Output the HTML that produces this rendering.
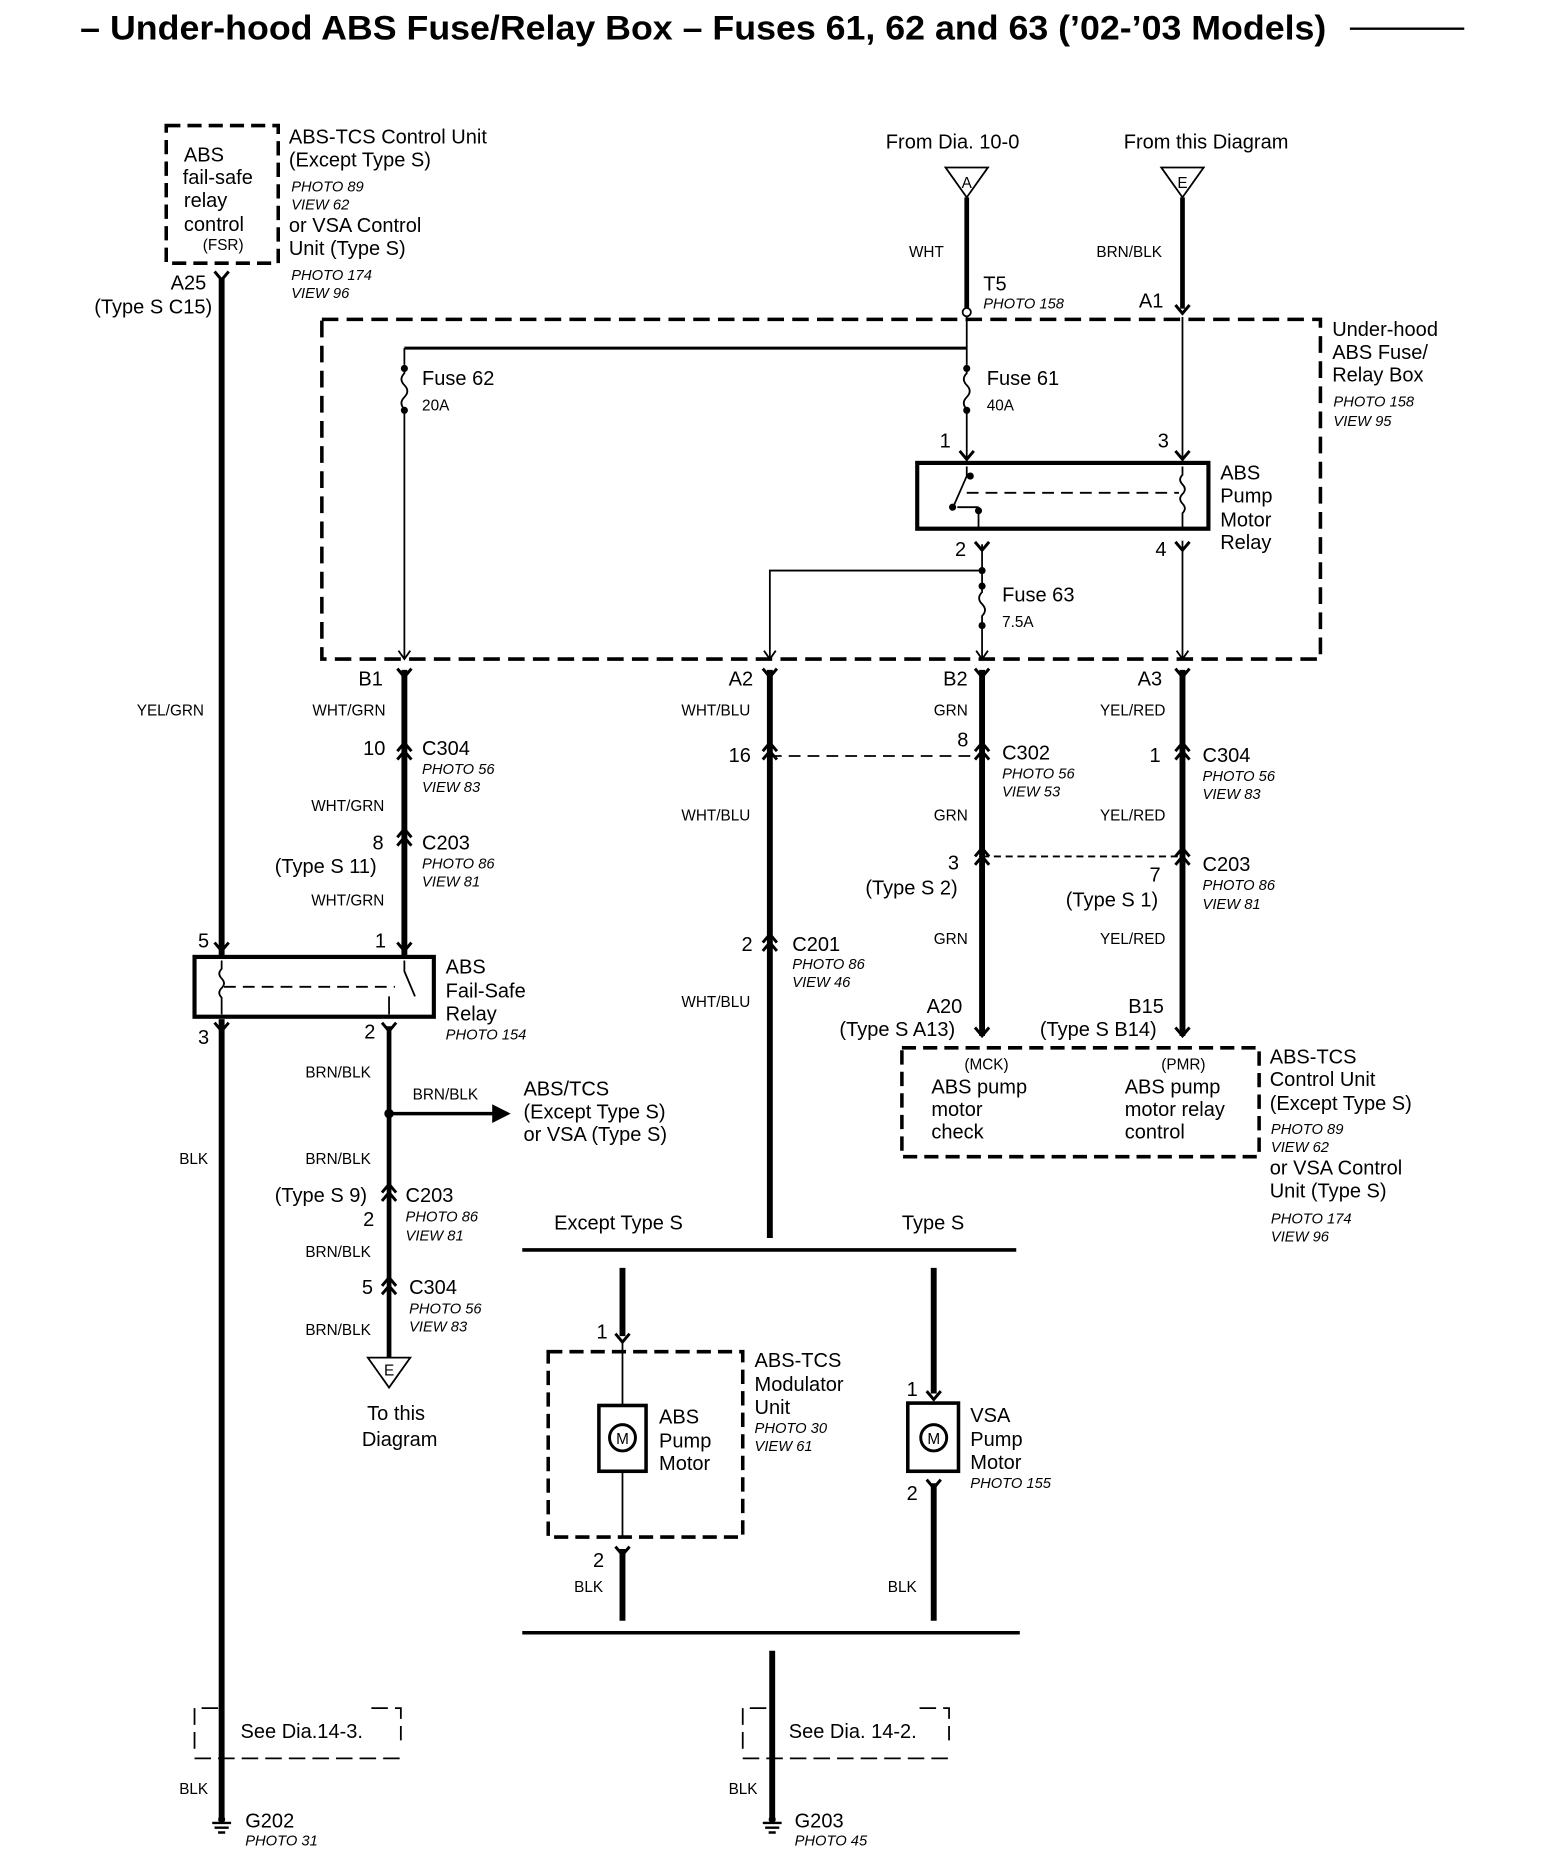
<!DOCTYPE html>
<html><head><meta charset="utf-8"><style>
html,body{margin:0;padding:0;background:#fff;}
svg{display:block;}
text{font-family:"Liberation Sans",Arial,sans-serif;fill:#000;}
.t{font-size:17px;}
.s{font-size:13px;}
.i{font-size:12.5px;font-style:italic;}
.b{font-size:29px;font-weight:bold;}
</style></head><body>
<svg width="1568" height="1866" viewBox="0 0 1330 1560" preserveAspectRatio="none" xmlns="http://www.w3.org/2000/svg">
<defs>
<path id="yc" d="M-6,-7 L0,0 L6,-7" fill="none" stroke="#000" stroke-width="2.5"/>
<path id="ar" d="M-5,-7 L0,0 L5,-7" fill="none" stroke="#000" stroke-width="1.5"/>
<path id="cm" d="M-6,0 L0,-7 L6,0 M-6,7 L0,0 L6,7" fill="none" stroke="#000" stroke-width="2.5"/>
</defs>
<g stroke="#000" fill="none">
<line x1="1145" y1="24" x2="1242" y2="24" stroke-width="2"/>
<rect x="141" y="105" width="95" height="115" stroke-width="3" stroke-dasharray="12,6"/>
<line x1="188" y1="232" x2="188" y2="800" stroke-width="5"/>
<line x1="188" y1="852" x2="188" y2="1522" stroke-width="5"/>
<rect x="273" y="267" width="847" height="284" stroke-width="3" stroke-dasharray="14,7"/>
<path d="M802,140 L838,140 L820,165 Z" stroke-width="1.5"/>
<path d="M985,140 L1021,140 L1003,165 Z" stroke-width="1.5"/>
<line x1="820" y1="165" x2="820" y2="258" stroke-width="4"/>
<line x1="1003" y1="165" x2="1003" y2="258" stroke-width="4"/>
<circle cx="820" cy="261" r="3.5" fill="#fff" stroke-width="1.5"/>
<line x1="820" y1="265" x2="820" y2="305" stroke-width="1.5"/>
<line x1="343" y1="291" x2="820" y2="291" stroke-width="2.5"/>
<line x1="343" y1="291" x2="343" y2="305" stroke-width="1.5"/>
<path d="M343,305 L343,312 q-5,5 0,10 q5,5 0,10 q-5,5 0,10 L343,550" stroke-width="1.5"/>
<path d="M820,305 L820,312 q-5,5 0,10 q5,5 0,10 q-5,5 0,10 L820,386" stroke-width="1.5"/>
<line x1="1003" y1="265" x2="1003" y2="386" stroke-width="1.5"/>
<rect x="778" y="387" width="247" height="55" stroke-width="3.5"/>
<path d="M820,390 L820,398 L808,425 M812,424 L830,424 M830,424 L830,442" stroke-width="1.5"/>
<line x1="820" y1="412" x2="1000" y2="412" stroke-width="1.5" stroke-dasharray="10,6"/>
<path d="M1003,390 L1003,397 q-4,4 0,8 q4,4 0,8 q-4,4 0,8 q4,4 0,8 L1003,442" stroke-width="1.5"/>
<line x1="833" y1="455" x2="833" y2="488" stroke-width="1.5"/>
<path d="M833,488 L833,495 q-5,5 0,10 q5,5 0,10 L833,550" stroke-width="1.5"/>
<line x1="1003" y1="452" x2="1003" y2="550" stroke-width="1.5"/>
<path d="M833,477 L653,477 L653,550" stroke-width="1.5"/>
<line x1="343" y1="560" x2="343" y2="800" stroke-width="5"/>
<line x1="653" y1="560" x2="653" y2="1035" stroke-width="5"/>
<line x1="833" y1="560" x2="833" y2="866" stroke-width="5"/>
<line x1="1003" y1="560" x2="1003" y2="866" stroke-width="5"/>
<line x1="653" y1="632" x2="833" y2="632" stroke-width="1.5" stroke-dasharray="10,6"/>
<line x1="833" y1="716" x2="1003" y2="716" stroke-width="1.5" stroke-dasharray="6,4"/>
<rect x="165" y="800" width="203" height="50" stroke-width="3.5"/>
<path d="M188,803 L188,810 q-4,4 0,8 q4,4 0,8 q-4,4 0,8 L188,848" stroke-width="1.5"/>
<line x1="190" y1="825" x2="335" y2="825" stroke-width="1.5" stroke-dasharray="10,6"/>
<path d="M343,803 L343,812 L352,833 M330,833 L330,848" stroke-width="1.5"/>
<line x1="330" y1="858" x2="330" y2="1135" stroke-width="4"/>
<line x1="330" y1="931" x2="425" y2="931" stroke-width="3"/>
<path d="M418,924 L432,931 L418,938 Z" fill="#000"/>
<path d="M312,1135 L348,1135 L330,1160 Z" stroke-width="1.5"/>
<rect x="765" y="876" width="303" height="91" stroke-width="3" stroke-dasharray="12,6"/>
<line x1="443" y1="1045" x2="862" y2="1045" stroke-width="3"/>
<line x1="528" y1="1060" x2="528" y2="1117" stroke-width="5"/>
<line x1="792" y1="1060" x2="792" y2="1165" stroke-width="5"/>
<rect x="465" y="1130" width="165" height="155" stroke-width="3" stroke-dasharray="12,6"/>
<line x1="528" y1="1122" x2="528" y2="1285" stroke-width="1.5"/>
<rect x="508" y="1175" width="40" height="55" stroke-width="3" fill="#fff"/>
<circle cx="528" cy="1202" r="11" stroke-width="2.5"/>
<line x1="528" y1="1295" x2="528" y2="1355" stroke-width="5"/>
<rect x="770" y="1173" width="43" height="57" stroke-width="3" fill="#fff"/>
<circle cx="792" cy="1202" r="11" stroke-width="2.5"/>
<line x1="792" y1="1240" x2="792" y2="1355" stroke-width="5"/>
<line x1="443" y1="1365" x2="865" y2="1365" stroke-width="3"/>
<line x1="655" y1="1380" x2="655" y2="1522" stroke-width="5"/>
<path d="M165,1462 L165,1428 L190,1428 M315,1428 L340,1428 L340,1455 M165,1470 L340,1470" stroke-width="1.5" stroke-dasharray="14,6"/>
<path d="M630,1462 L630,1428 L655,1428 M780,1428 L805,1428 L805,1455 M630,1470 L805,1470" stroke-width="1.5" stroke-dasharray="14,6"/>
<path d="M180,1524 L196,1524 M182,1528 L194,1528 M185,1532 L191,1532" stroke-width="2"/>
<path d="M647,1524 L663,1524 M649,1528 L661,1528 M652,1532 L658,1532" stroke-width="2"/>
</g>
<g fill="#000">
<circle cx="343" cy="308" r="3"/><circle cx="343" cy="343" r="3"/>
<circle cx="820" cy="308" r="3"/><circle cx="820" cy="343" r="3"/>
<circle cx="833" cy="477" r="3"/><circle cx="833" cy="490" r="3"/><circle cx="833" cy="523" r="3"/>
<circle cx="808" cy="424" r="3"/><circle cx="830" cy="427" r="3"/><circle cx="823" cy="398" r="3"/>
<circle cx="330" cy="931" r="4"/>
<circle cx="188" cy="1521" r="3"/><circle cx="655" cy="1521" r="3"/>
</g>
<use href="#yc" x="188" y="234"/>
<use href="#yc" x="343" y="566"/><use href="#yc" x="653" y="566"/><use href="#yc" x="833" y="566"/><use href="#yc" x="1003" y="566"/>
<use href="#ar" x="343" y="551"/><use href="#ar" x="653" y="551"/><use href="#ar" x="833" y="551"/><use href="#ar" x="1003" y="551"/>
<use href="#cm" x="343" y="628"/><use href="#cm" x="343" y="700"/>
<use href="#cm" x="653" y="628"/><use href="#cm" x="653" y="788"/>
<use href="#cm" x="833" y="628"/><use href="#cm" x="833" y="716"/>
<use href="#cm" x="1003" y="628"/><use href="#cm" x="1003" y="716"/>
<use href="#cm" x="330" y="997"/><use href="#cm" x="330" y="1075"/>
<use href="#yc" x="833" y="866"/>
<use href="#yc" x="1003" y="866"/>
<use href="#yc" x="188" y="795"/><use href="#yc" x="343" y="795"/>
<use href="#yc" x="188" y="862"/><use href="#yc" x="330" y="862"/>
<use href="#yc" x="820" y="384"/><use href="#yc" x="1003" y="384"/>
<use href="#yc" x="833" y="460"/><use href="#yc" x="1003" y="460"/>
<use href="#yc" x="1003" y="262"/>
<use href="#yc" x="528" y="1122"/><use href="#yc" x="528" y="1300"/>
<use href="#yc" x="792" y="1170"/><use href="#yc" x="792" y="1244"/>
<text x="68" y="33" class="b" textLength="1057" lengthAdjust="spacingAndGlyphs">– Under-hood ABS Fuse/Relay Box – Fuses 61, 62 and 63 (’02-’03 Models)</text>
<text class="t"><tspan x="156" y="135">ABS</tspan><tspan x="155" y="154">fail-safe</tspan><tspan x="156" y="173">relay</tspan><tspan x="156" y="193">control</tspan></text>
<text x="172" y="209" class="s">(FSR)</text>
<text class="t"><tspan x="245" y="120">ABS-TCS Control Unit</tspan><tspan x="245" y="139">(Except Type S)</tspan></text>
<text class="i"><tspan x="247" y="160">PHOTO 89</tspan><tspan x="247" y="175">VIEW 62</tspan></text>
<text class="t"><tspan x="245" y="194">or VSA Control</tspan><tspan x="245" y="213">Unit (Type S)</tspan></text>
<text class="i"><tspan x="247" y="234">PHOTO 174</tspan><tspan x="247" y="249">VIEW 96</tspan></text>
<text x="175" y="242" class="t" text-anchor="end">A25</text>
<text x="180" y="262" class="t" text-anchor="end">(Type S C15)</text>
<text x="808" y="124" class="t" text-anchor="middle">From Dia. 10-0</text>
<text x="1023" y="124" class="t" text-anchor="middle">From this Diagram</text>
<text x="820" y="157" class="s" text-anchor="middle">A</text>
<text x="1003" y="157" class="s" text-anchor="middle">E</text>
<text x="771" y="215" class="s">WHT</text>
<text x="930" y="215" class="s">BRN/BLK</text>
<text x="834" y="243" class="t">T5</text>
<text x="834" y="258" class="i">PHOTO 158</text>
<text x="966" y="257" class="t">A1</text>
<text class="t"><tspan x="1130" y="281">Under-hood</tspan><tspan x="1130" y="300">ABS Fuse/</tspan><tspan x="1130" y="319">Relay Box</tspan></text>
<text class="i"><tspan x="1131" y="340">PHOTO 158</tspan><tspan x="1131" y="356">VIEW 95</tspan></text>
<text x="358" y="322" class="t">Fuse 62</text><text x="358" y="343" class="s">20A</text>
<text x="837" y="322" class="t">Fuse 61</text><text x="837" y="343" class="s">40A</text>
<text x="797" y="374" class="t">1</text><text x="982" y="374" class="t">3</text>
<text x="810" y="465" class="t">2</text><text x="980" y="465" class="t">4</text>
<text class="t"><tspan x="1035" y="401">ABS</tspan><tspan x="1035" y="420">Pump</tspan><tspan x="1035" y="440">Motor</tspan><tspan x="1035" y="459">Relay</tspan></text>
<text x="850" y="503" class="t">Fuse 63</text><text x="850" y="524" class="s">7.5A</text>
<text x="304" y="573" class="t">B1</text><text x="618" y="573" class="t">A2</text><text x="800" y="573" class="t">B2</text><text x="965" y="573" class="t">A3</text>
<text x="116" y="598" class="s">YEL/GRN</text>
<text x="265" y="598" class="s">WHT/GRN</text>
<text x="578" y="598" class="s">WHT/BLU</text>
<text x="792" y="598" class="s">GRN</text>
<text x="933" y="598" class="s">YEL/RED</text>
<text x="308" y="631" class="t">10</text><text x="358" y="631" class="t">C304</text>
<text class="i"><tspan x="358" y="647">PHOTO 56</tspan><tspan x="358" y="662">VIEW 83</tspan></text>
<text x="618" y="637" class="t">16</text>
<text x="812" y="624" class="t">8</text><text x="850" y="635" class="t">C302</text>
<text class="i"><tspan x="850" y="651">PHOTO 56</tspan><tspan x="850" y="666">VIEW 53</tspan></text>
<text x="975" y="637" class="t">1</text><text x="1020" y="637" class="t">C304</text>
<text class="i"><tspan x="1020" y="653">PHOTO 56</tspan><tspan x="1020" y="668">VIEW 83</tspan></text>
<text x="264" y="678" class="s">WHT/GRN</text>
<text x="578" y="686" class="s">WHT/BLU</text>
<text x="792" y="686" class="s">GRN</text>
<text x="933" y="686" class="s">YEL/RED</text>
<text x="316" y="710" class="t">8</text><text x="358" y="710" class="t">C203</text>
<text x="233" y="730" class="t">(Type S 11)</text>
<text class="i"><tspan x="358" y="726">PHOTO 86</tspan><tspan x="358" y="741">VIEW 81</tspan></text>
<text x="264" y="757" class="s">WHT/GRN</text>
<text x="804" y="727" class="t">3</text><text x="734" y="748" class="t">(Type S 2)</text>
<text x="975" y="737" class="t">7</text><text x="904" y="758" class="t">(Type S 1)</text>
<text x="1020" y="728" class="t">C203</text>
<text class="i"><tspan x="1020" y="744">PHOTO 86</tspan><tspan x="1020" y="760">VIEW 81</tspan></text>
<text x="792" y="789" class="s">GRN</text><text x="933" y="789" class="s">YEL/RED</text>
<text x="629" y="795" class="t">2</text><text x="672" y="795" class="t">C201</text>
<text class="i"><tspan x="672" y="810">PHOTO 86</tspan><tspan x="672" y="825">VIEW 46</tspan></text>
<text x="578" y="842" class="s">WHT/BLU</text>
<text x="168" y="792" class="t">5</text><text x="318" y="792" class="t">1</text>
<text class="t"><tspan x="378" y="814">ABS</tspan><tspan x="378" y="834">Fail-Safe</tspan><tspan x="378" y="853">Relay</tspan></text>
<text x="378" y="869" class="i">PHOTO 154</text>
<text x="168" y="873" class="t">3</text><text x="309" y="868" class="t">2</text>
<text x="786" y="847" class="t">A20</text><text x="712" y="866" class="t">(Type S A13)</text>
<text x="957" y="847" class="t">B15</text><text x="882" y="866" class="t">(Type S B14)</text>
<text x="818" y="894" class="s">(MCK)</text><text x="985" y="894" class="s">(PMR)</text>
<text class="t"><tspan x="790" y="914">ABS pump</tspan><tspan x="790" y="933">motor</tspan><tspan x="790" y="952">check</tspan></text>
<text class="t"><tspan x="954" y="914">ABS pump</tspan><tspan x="954" y="933">motor relay</tspan><tspan x="954" y="952">control</tspan></text>
<text class="t"><tspan x="1077" y="889">ABS-TCS</tspan><tspan x="1077" y="908">Control Unit</tspan><tspan x="1077" y="928">(Except Type S)</tspan></text>
<text class="i"><tspan x="1078" y="948">PHOTO 89</tspan><tspan x="1078" y="963">VIEW 62</tspan></text>
<text class="t"><tspan x="1077" y="982">or VSA Control</tspan><tspan x="1077" y="1001">Unit (Type S)</tspan></text>
<text class="i"><tspan x="1078" y="1023">PHOTO 174</tspan><tspan x="1078" y="1038">VIEW 96</tspan></text>
<text x="259" y="901" class="s">BRN/BLK</text>
<text x="350" y="919" class="s">BRN/BLK</text>
<text class="t"><tspan x="444" y="916">ABS/TCS</tspan><tspan x="444" y="935">(Except Type S)</tspan><tspan x="444" y="954">or VSA (Type S)</tspan></text>
<text x="152" y="973" class="s">BLK</text>
<text x="259" y="973" class="s">BRN/BLK</text>
<text x="233" y="1005" class="t">(Type S 9)</text><text x="344" y="1005" class="t">C203</text>
<text x="308" y="1025" class="t">2</text>
<text class="i"><tspan x="344" y="1021">PHOTO 86</tspan><tspan x="344" y="1037">VIEW 81</tspan></text>
<text x="259" y="1051" class="s">BRN/BLK</text>
<text x="307" y="1082" class="t">5</text><text x="347" y="1082" class="t">C304</text>
<text class="i"><tspan x="347" y="1098">PHOTO 56</tspan><tspan x="347" y="1113">VIEW 83</tspan></text>
<text x="259" y="1116" class="s">BRN/BLK</text>
<text x="330" y="1150" class="s" text-anchor="middle">E</text>
<text x="336" y="1187" class="t" text-anchor="middle">To this</text>
<text x="339" y="1209" class="t" text-anchor="middle">Diagram</text>
<text x="470" y="1028" class="t">Except Type S</text>
<text x="765" y="1028" class="t">Type S</text>
<text x="506" y="1119" class="t">1</text>
<text x="769" y="1167" class="t">1</text>
<text class="t"><tspan x="640" y="1143">ABS-TCS</tspan><tspan x="640" y="1163">Modulator</tspan><tspan x="640" y="1182">Unit</tspan></text>
<text class="i"><tspan x="640" y="1198">PHOTO 30</tspan><tspan x="640" y="1213">VIEW 61</tspan></text>
<text class="t"><tspan x="559" y="1190">ABS</tspan><tspan x="559" y="1210">Pump</tspan><tspan x="559" y="1229">Motor</tspan></text>
<text class="t"><tspan x="823" y="1189">VSA</tspan><tspan x="823" y="1209">Pump</tspan><tspan x="823" y="1228">Motor</tspan></text>
<text x="823" y="1244" class="i">PHOTO 155</text>
<text x="528" y="1207" class="s" text-anchor="middle">M</text>
<text x="792" y="1207" class="s" text-anchor="middle">M</text>
<text x="503" y="1310" class="t">2</text><text x="769" y="1254" class="t">2</text>
<text x="487" y="1331" class="s">BLK</text><text x="753" y="1331" class="s">BLK</text>
<text x="204" y="1453" class="t">See Dia.14-3.</text>
<text x="669" y="1453" class="t">See Dia. 14-2.</text>
<text x="152" y="1500" class="s">BLK</text><text x="618" y="1500" class="s">BLK</text>
<text x="208" y="1528" class="t">G202</text><text x="208" y="1543" class="i">PHOTO 31</text>
<text x="674" y="1528" class="t">G203</text><text x="674" y="1543" class="i">PHOTO 45</text>
</svg>
</body></html>
